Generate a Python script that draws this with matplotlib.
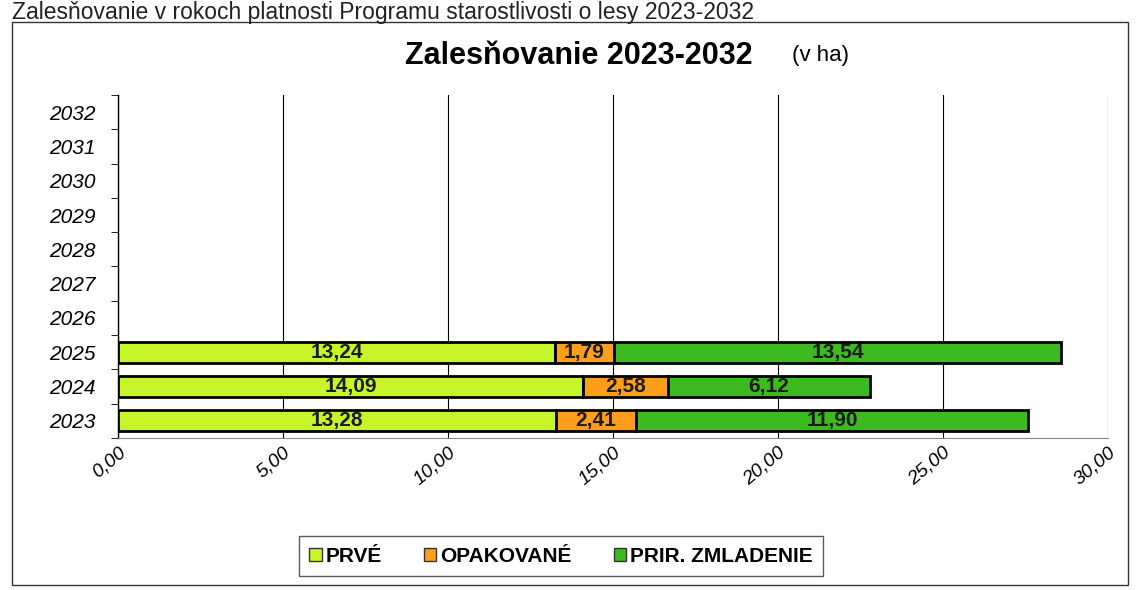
import matplotlib.pyplot as plt
from matplotlib.patches import Rectangle, Patch
import numpy as np

years = ["2023", "2024", "2025", "2026", "2027", "2028", "2029", "2030", "2031", "2032"]
prve = [13.28, 14.09, 13.24]
opakovane = [2.41, 2.58, 1.79]
prir_zmladenie = [11.90, 6.12, 13.54]
series_names = ["PRVÉ", "OPAKOVANÉ", "PRIR. ZMLADENIE"]
colors = ["#c6f52a", "#ff9e1b", "#3dba1f"]
x_ticks = [0, 5, 10, 15, 20, 25, 30]


def fmt(v):
    return f"{v:.2f}".replace(".", ",")


plt.rcParams["font.family"] = ["Liberation Sans", "DejaVu Sans"]

fig = plt.figure(figsize=(11.36, 5.9), dpi=100)
W, H = 1136, 590

# outer chart frame
fig.patches.append(Rectangle((12 / W, 1 - 585 / H), 1116 / W, 563 / H,
                             transform=fig.transFigure, fill=False,
                             edgecolor="#333333", linewidth=1.0))

fig.text(12 / W, 1 - 1 / H, "Zalesňovanie v rokoch platnosti Programu starostlivosti o lesy 2023-2032",
         ha="left", va="top", fontsize=16.5, color="#222222")
fig.text(579 / W, 1 - 56 / H, "Zalesňovanie 2023-2032", ha="center", va="center",
         fontsize=22, fontweight="bold")
fig.text(820 / W, 1 - 56 / H, "(v ha)", ha="center", va="center", fontsize=16)

ax = fig.add_axes([118 / W, 1 - 438 / H, 990 / W, 343 / H])

ypos = np.arange(len(prve))
left = np.zeros(len(prve))
for vals, name, col in zip([prve, opakovane, prir_zmladenie], series_names, colors):
    vals = np.array(vals)
    ax.barh(ypos, vals, left=left, height=0.62, color=col, edgecolor="black",
            linewidth=2, label=name, zorder=3)
    for y, l, v in zip(ypos, left, vals):
        ax.text(l + v / 2, y, fmt(v), ha="center", va="center", fontsize=15,
                fontweight="bold", color="#1a1a1a", zorder=4)
    left = left + vals

ax.set_xlim(0, 30)
ax.set_ylim(-0.5, len(years) - 0.5)
ax.set_yticks(np.arange(len(years)))
ax.set_yticklabels(years, fontsize=15, fontstyle="italic")
ax.set_yticks(np.arange(len(years) + 1) - 0.5, minor=True)
ax.tick_params(axis="y", which="major", length=0, pad=16)
ax.tick_params(axis="y", which="minor", length=5, direction="out")

ax.set_xticks(x_ticks)
ax.set_xticklabels([fmt(t) for t in x_ticks], rotation=40, fontsize=14,
                   fontstyle="italic", ha="right", rotation_mode="anchor")
ax.tick_params(axis="x", length=0, pad=4)
ax.grid(axis="x", color="black", linewidth=0.8, zorder=0)

for s in ["top", "right"]:
    ax.spines[s].set_visible(False)
ax.spines["left"].set_linewidth(1.0)
ax.spines["bottom"].set_color("#888888")

handles = [Patch(facecolor=c, edgecolor="#333333", label=n) for c, n in zip(colors, series_names)]
leg = fig.legend(handles=handles, loc="center", bbox_to_anchor=(561 / W, 1 - 556 / H),
                 ncol=3, frameon=True, fancybox=False, edgecolor="#333333",
                 prop={"weight": "bold", "size": 15}, handlelength=0.6,
                 handleheight=0.6, handletextpad=0.2, columnspacing=2.0,
                 borderpad=0.5, borderaxespad=0)
leg.get_frame().set_linewidth(1.0)

fig.savefig("out.png", dpi=100)
